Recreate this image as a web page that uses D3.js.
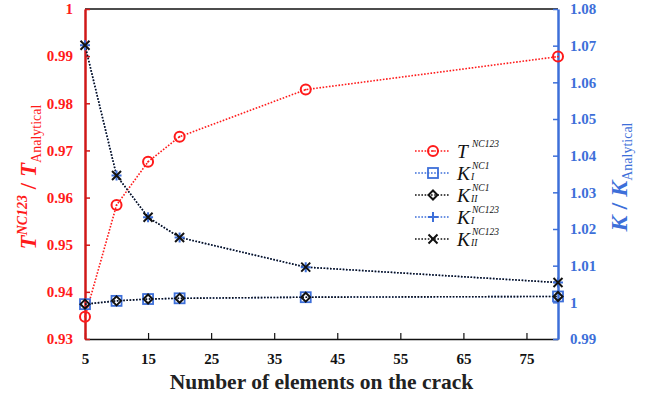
<!DOCTYPE html>
<html>
<head>
<meta charset="utf-8">
<script src="https://cdn.jsdelivr.net/npm/d3@7"></script>
<style>
  body { margin: 0; background: #fff; }
  svg text { font-family: "Liberation Serif", "DejaVu Serif", serif; }
</style>
</head>
<body>
<div id="chart"></div>
<script>
const elements = [5, 10, 15, 20, 40, 80];
const tRatio = [0.9347, 0.9584, 0.9676, 0.9729, 0.9829, 0.9899];
const kI_nc1 = [0.9995, 1.0004, 1.0009, 1.0011, 1.0014, 1.0016];
const kII_nc1 = [0.9995, 1.0004, 1.0009, 1.0011, 1.0014, 1.0016];
const kI_nc123 = [1.0701, 1.0346, 1.0232, 1.0177, 1.0096, 1.0054];
const kII_nc123 = [1.0701, 1.0346, 1.0232, 1.0177, 1.0096, 1.0054];
const xTicks = [5, 15, 25, 35, 45, 55, 65, 75];
const leftTicks = [0.93, 0.94, 0.95, 0.96, 0.97, 0.98, 0.99, 1];
const rightTicks = [0.99, 1, 1.01, 1.02, 1.03, 1.04, 1.05, 1.06, 1.07, 1.08];

const red = '#ff1a1a',
    redAxis = '#d01818',
    blue = '#3d6fd9',
    black = '#111';

const width = 654, height = 399;
const margin = {left: 85, right: 96, top: 9, bottom: 60};

const svg = d3.select('#chart').append('svg')
    .attr('width', width)
    .attr('height', height);

const x = d3.scaleLinear().domain([5, 80]).range([margin.left, width - margin.right]);
const yL = d3.scaleLinear().domain([0.93, 1]).range([height - margin.bottom, margin.top]);
const yR = d3.scaleLinear().domain([0.99, 1.08]).range([height - margin.bottom, margin.top]);

// frame top
svg.append('line')
    .attr('x1', x(5)).attr('x2', x(80))
    .attr('y1', yL(1)).attr('y2', yL(1))
    .attr('stroke', black).attr('stroke-width', 1.3);

// bottom axis
const xAxis = svg.append('g')
    .attr('transform', 'translate(0,' + yL(0.93) + ')')
    .call(d3.axisBottom(x).tickValues(xTicks).tickSizeInner(-6).tickSizeOuter(0).tickPadding(14));
xAxis.select('.domain').attr('stroke', black).attr('stroke-width', 1.5);
xAxis.selectAll('.tick line').attr('stroke', black).attr('stroke-width', 1.2);
xAxis.selectAll('text').attr('fill', black).attr('font-size', 15).attr('font-weight', 'bold')
    .style('font-family', '"Liberation Serif", serif');

// left axis
const lAxis = svg.append('g')
    .attr('transform', 'translate(' + x(5) + ',0)')
    .call(d3.axisLeft(yL).tickValues(leftTicks).tickFormat(d3.format('~g')).tickSizeInner(-5).tickSizeOuter(0).tickPadding(12));
lAxis.select('.domain').attr('stroke', redAxis).attr('stroke-width', 2.5);
lAxis.selectAll('.tick line').attr('stroke', redAxis).attr('stroke-width', 1.5);
lAxis.selectAll('text').attr('fill', red).attr('font-size', 15).attr('font-weight', 'bold')
    .style('font-family', '"Liberation Serif", serif');

// right axis
const rAxis = svg.append('g')
    .attr('transform', 'translate(' + x(80) + ',0)')
    .call(d3.axisRight(yR).tickValues(rightTicks).tickFormat(d3.format('~g')).tickSizeInner(-5).tickSizeOuter(0).tickPadding(12));
rAxis.select('.domain').attr('stroke', blue).attr('stroke-width', 2.5);
rAxis.selectAll('.tick line').attr('stroke', blue).attr('stroke-width', 1.5);
rAxis.selectAll('text').attr('fill', blue).attr('font-size', 15).attr('font-weight', 'bold')
    .style('font-family', '"Liberation Serif", serif');

// series
const series = [
    {vals: tRatio, y: yL, color: red, marker: 'circle'},
    {vals: kI_nc1, y: yR, color: blue, marker: 'square'},
    {vals: kII_nc1, y: yR, color: black, marker: 'diamond'},
    {vals: kI_nc123, y: yR, color: blue, marker: 'plus'},
    {vals: kII_nc123, y: yR, color: black, marker: 'cross'}
];

function drawMarker(g, type, color) {
    if (type == 'circle') {
        g.append('circle').attr('r', 5).attr('fill', 'none').attr('stroke', color).attr('stroke-width', 2);
        g.append('circle').attr('r', 0.9).attr('fill', color);
    } else if (type == 'square') {
        g.append('rect').attr('x', -5).attr('y', -5).attr('width', 10).attr('height', 10)
            .attr('fill', 'none').attr('stroke', color).attr('stroke-width', 1.8);
    } else if (type == 'diamond') {
        g.append('path').attr('d', 'M0,-4.5L4.5,0L0,4.5L-4.5,0Z')
            .attr('fill', 'none').attr('stroke', color).attr('stroke-width', 2);
    } else if (type == 'plus') {
        g.append('path').attr('d', 'M-5,0H5M0,-5V5').attr('stroke', color).attr('stroke-width', 2);
    } else if (type == 'cross') {
        g.append('path').attr('d', 'M-4.5,-4.5L4.5,4.5M-4.5,4.5L4.5,-4.5').attr('stroke', color).attr('stroke-width', 2);
    }
}

series.forEach(s => {
    const line = d3.line().x((d, i) => x(elements[i])).y(d => s.y(d));
    svg.append('path')
        .datum(s.vals)
        .attr('d', line)
        .attr('fill', 'none')
        .attr('stroke', s.color)
        .attr('stroke-width', 1.6)
        .attr('stroke-dasharray', '1.6,1.6');
});
series.forEach(s => {
    s.vals.forEach((v, i) => {
        const g = svg.append('g').attr('transform', 'translate(' + x(elements[i]) + ',' + s.y(v) + ')');
        drawMarker(g, s.marker, s.color);
    });
});

// legend
const legendRows = [
    {base: 'T', sup: 'NC123', sub: ''},
    {base: 'K', sup: 'NC1', sub: 'I'},
    {base: 'K', sup: 'NC1', sub: 'II'},
    {base: 'K', sup: 'NC123', sub: 'I'},
    {base: 'K', sup: 'NC123', sub: 'II'}
];
const legendY = [151, 173, 195, 217, 239];
legendRows.forEach((r, i) => {
    const s = series[i];
    const ly = legendY[i];
    svg.append('line').attr('x1', 415).attr('x2', 450).attr('y1', ly).attr('y2', ly)
        .attr('stroke', s.color).attr('stroke-width', 1.6).attr('stroke-dasharray', '1.6,1.6');
    const g = svg.append('g').attr('transform', 'translate(433,' + ly + ')');
    drawMarker(g, s.marker, s.color);
    svg.append('text').attr('x', 457).attr('y', ly + 6.5)
        .attr('font-size', 19.5).attr('font-style', 'italic').attr('fill', black)
        .text(r.base);
    svg.append('text').attr('x', 472).attr('y', ly - 4)
        .attr('font-size', 9.5).attr('font-style', 'italic').attr('fill', black)
        .text(r.sup);
    if (r.sub) {
        svg.append('text').attr('x', 471).attr('y', ly + 7)
            .attr('font-size', 9.5).attr('font-style', 'italic').attr('fill', black)
            .text(r.sub);
    }
});

// x title
svg.append('text')
    .attr('x', (x(5) + x(80)) / 2).attr('y', 389)
    .attr('text-anchor', 'middle')
    .attr('font-size', 21.5).attr('font-weight', 'bold').attr('fill', '#222')
    .text('Number of elements on the crack');

// left title
const lt = svg.append('text')
    .attr('transform', 'translate(36,177) rotate(-90)')
    .attr('text-anchor', 'middle')
    .attr('font-weight', 'bold').attr('fill', red).attr('font-size', 23);
lt.append('tspan').attr('font-style', 'italic').text('T');
lt.append('tspan').attr('dy', -9).attr('font-size', 14).attr('font-style', 'italic').text('NC123');
lt.append('tspan').attr('dy', 9).text(' / ');
lt.append('tspan').attr('font-style', 'italic').text('T');
lt.append('tspan').attr('dy', 5).attr('font-size', 14).attr('font-weight', 'normal').text('Analytical');

// right title
const rt = svg.append('text')
    .attr('transform', 'translate(627,177) rotate(-90)')
    .attr('text-anchor', 'middle')
    .attr('font-weight', 'bold').attr('fill', blue).attr('font-size', 24);
rt.append('tspan').attr('font-style', 'italic').text('K');
rt.append('tspan').text(' / ');
rt.append('tspan').attr('font-style', 'italic').text('K');
rt.append('tspan').attr('dy', 5).attr('font-size', 14).attr('font-weight', 'normal').text('Analytical');
</script>
</body>
</html>
